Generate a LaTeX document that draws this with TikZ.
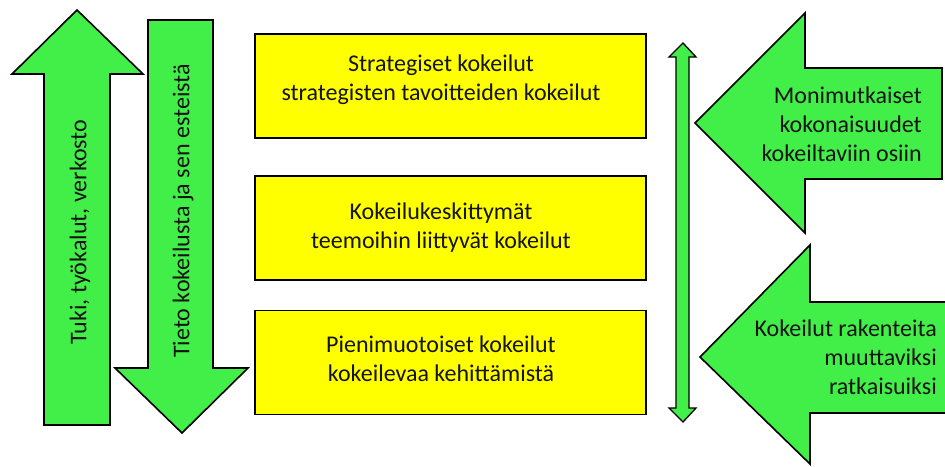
\documentclass[tikz,border=0pt]{standalone}
\usepackage{fontspec}
\setmainfont{Carlito}
\definecolor{arrowgreen}{RGB}{66,238,72}
\definecolor{boxyellow}{RGB}{255,255,0}
\definecolor{ink}{RGB}{20,20,20}
\tikzset{
  greenarrow/.style={fill=arrowgreen, draw=black, line width=1.6pt, line join=miter},
  levelbox/.style={draw=black, fill=boxyellow, line width=1.8pt, minimum width=391pt, minimum height=104pt, inner sep=0pt},
  lbl/.style={text=ink, font=\fontsize{24}{29}\selectfont, inner sep=0pt, align=center},
  rlbl/.style={lbl, align=right, anchor=east},
}
\begin{document}
\begin{tikzpicture}[x=1pt, y=-1pt]
\useasboundingbox (0,0) rectangle (945,466);
\clip (0,0) rectangle (945,466);

% upward arrow: support and tools
\draw[greenarrow] (77,10) -- (143,74) -- (110,74) -- (110,425) -- (44,425) -- (44,74) -- (12,74) -- cycle;
\node[lbl, rotate=90] (tuki) at (80,232) {Tuki, työkalut, verkosto};

% downward arrow: knowledge from experiments
\draw[greenarrow] (148,20) -- (213,20) -- (213,368) -- (248,368) -- (182,433) -- (115,368) -- (148,368) -- cycle;
\node[lbl, rotate=90] (tieto) at (183,211) {Tieto kokeilusta ja sen esteistä};

% three levels of experiments
\node[levelbox] (b1) at (450.5,86) {};
\node[levelbox] (b2) at (450.5,228) {};
\node[levelbox] (b3) at (450.5,362.5) {};
\node[lbl] (t1) at (441,80) {Strategiset kokeilut\\strategisten tavoitteiden kokeilut};
\node[lbl] (t2) at (441,228) {Kokeilukeskittymät\\teemoihin liittyvät kokeilut};
\node[lbl] (t3) at (441,359) {Pienimuotoiset kokeilut\\kokeilevaa kehittämistä};

% thin double-headed arrow beside the levels
\draw[greenarrow, line width=1.3pt] (683,43) -- (696,57) -- (689,57) -- (689,408) -- (696,408) -- (683,422) -- (669,408) -- (676,408) -- (676,57) -- (669,57) -- cycle;

% left-pointing arrows on the right
\draw[greenarrow] (695,123) -- (805,13) -- (805,68) -- (942,68) -- (942,179) -- (805,179) -- (805,233) -- cycle;
\node[rlbl] (moni) at (922,124) {Monimutkaiset\\kokonaisuudet\\kokeiltaviin osiin};

\draw[greenarrow] (700,357) -- (810,245) -- (810,302) -- (955,302) -- (955,413) -- (810,413) -- (810,464) -- cycle;
\node[rlbl] (rak) at (937,357) {Kokeilut rakenteita\\muuttaviksi\\ratkaisuiksi};
\end{tikzpicture}
\end{document}
